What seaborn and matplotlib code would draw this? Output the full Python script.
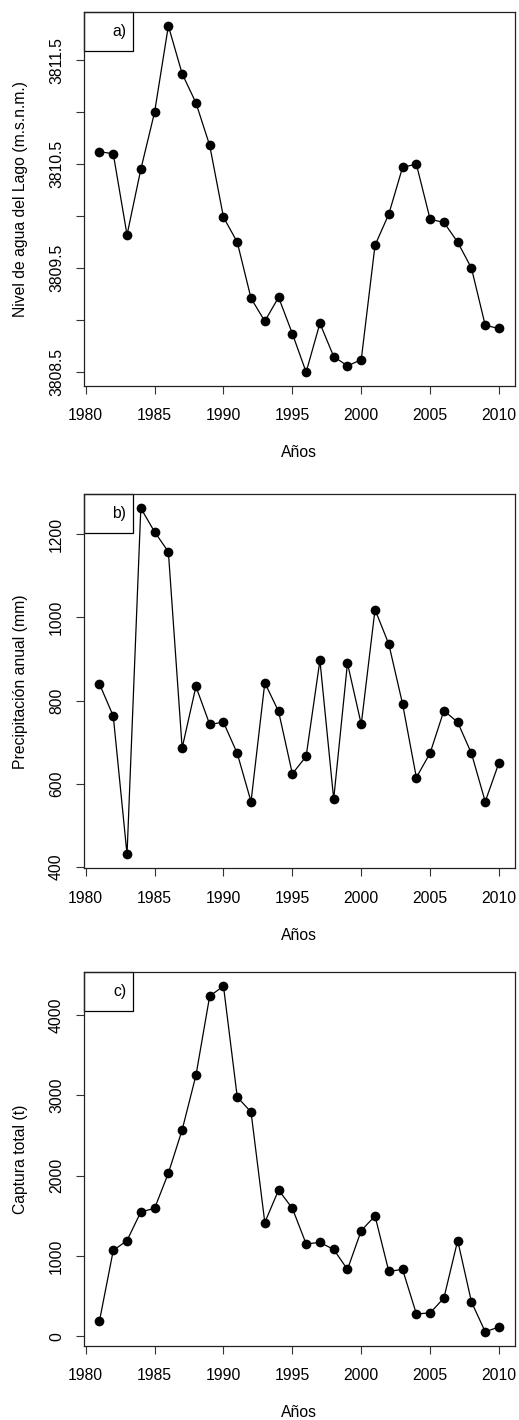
import numpy as np
import pandas as pd
import matplotlib
matplotlib.use("Agg")
import matplotlib.pyplot as plt
from matplotlib.patches import Rectangle
import seaborn as sns

# data
years = list(range(1981, 2011))

nivel = [3810.62, 3810.60, 3809.82, 3810.45, 3811.00, 3811.83, 3811.37, 3811.09,
         3810.68, 3809.99, 3809.75, 3809.21, 3808.99, 3809.22, 3808.87, 3808.50,
         3808.97, 3808.65, 3808.56, 3808.62, 3809.72, 3810.02, 3810.47, 3810.50,
         3809.97, 3809.94, 3809.75, 3809.50, 3808.95, 3808.92]

precip = [840, 763, 430, 1263, 1206, 1158, 686, 834, 743, 748, 673, 557, 843, 774,
          624, 666, 897, 563, 890, 743, 1019, 936, 792, 615, 674, 776, 748, 673,
          557, 651]

captura = [190, 1067, 1191, 1547, 1592, 2030, 2569, 3247, 4236, 4360, 2978, 2792,
           1415, 1820, 1592, 1149, 1167, 1080, 831, 1315, 1497, 807, 831, 277, 289,
           475, 1191, 426, 53, 115]

panel_labels = ["a)", "b)", "c)"]
y_labels = ["Nivel de agua del Lago (m.s.n.m.)", "Precipitación anual (mm)",
            "Captura total (t)"]
y_ticks = [np.arange(3808.5, 3811.51, 0.5), np.arange(400, 1201, 200),
           np.arange(0, 4001, 1000)]
y_ticklabels = [["3808.5", "", "3809.5", "", "3810.5", "", "3811.5"],
                ["400", "600", "800", "1000", "1200"],
                ["0", "1000", "2000", "3000", "4000"]]
x_ticks = [1980, 1985, 1990, 1995, 2000, 2005, 2010]

sns.set_theme(style="white")
plt.rcParams['font.family'] = ['Liberation Sans', 'DejaVu Sans']
plt.rcParams['font.size'] = 11.3
plt.rcParams['text.color'] = 'black'
plt.rcParams['axes.labelcolor'] = 'black'

W, H = 519, 1420
fig = plt.figure(figsize=(W / 100, H / 100), dpi=100)

# axes boxes in pixels: (left, top, right, bottom)
boxes = [(83.5, 12, 515, 386), (83.5, 494.3, 515, 868.3), (83.5, 972.3, 515, 1345.7)]
series = [nivel, precip, captura]


def r_range(vals):
    lo, hi = min(vals), max(vals)
    pad = 0.04 * (hi - lo)
    return lo - pad, hi + pad


for i, (box, vals) in enumerate(zip(boxes, series)):
    l, t, r, b = box
    ax = fig.add_axes([l / W, 1 - b / H, (r - l) / W, (b - t) / H])
    df = pd.DataFrame({"anio": years, "valor": vals})
    sns.lineplot(data=df, x="anio", y="valor", ax=ax, color="black", lw=0.9,
                 marker="o", markersize=7, markeredgewidth=0, markerfacecolor="black")
    ax.set_xlim(*r_range(years))
    ax.set_ylim(*r_range(vals))
    ax.set_xticks(x_ticks)
    ax.set_xticklabels([str(x) for x in x_ticks])
    ax.set_yticks(y_ticks[i])
    ax.set_yticklabels(y_ticklabels[i], rotation=90, va="center")
    ax.tick_params(direction="out", length=6, width=0.8, color="#333333",
                   labelsize=11.3, left=True, bottom=True, labelcolor="black")
    ax.tick_params(axis="x", pad=10)
    ax.tick_params(axis="y", pad=8)
    for s in ax.spines.values():
        s.set_color("#222222")
        s.set_linewidth(0.9)
    ax.set_xlabel("Años", fontsize=11.3, labelpad=16)
    ax.set_ylabel(y_labels[i], fontsize=11.3, labelpad=15)
    ax.grid(False)

    # label box in the upper-left corner
    bw, bh = 49.8 / (r - l), 38.5 / (b - t)
    ax.add_patch(Rectangle((0, 1 - bh), bw, bh, transform=ax.transAxes,
                           fill=False, edgecolor="black", lw=0.9, clip_on=False))
    ax.text(bw - 7 / (r - l), 1 - bh / 2, panel_labels[i], transform=ax.transAxes,
            ha="right", va="center", fontsize=11.3)

fig.savefig("out.png", dpi=100)
